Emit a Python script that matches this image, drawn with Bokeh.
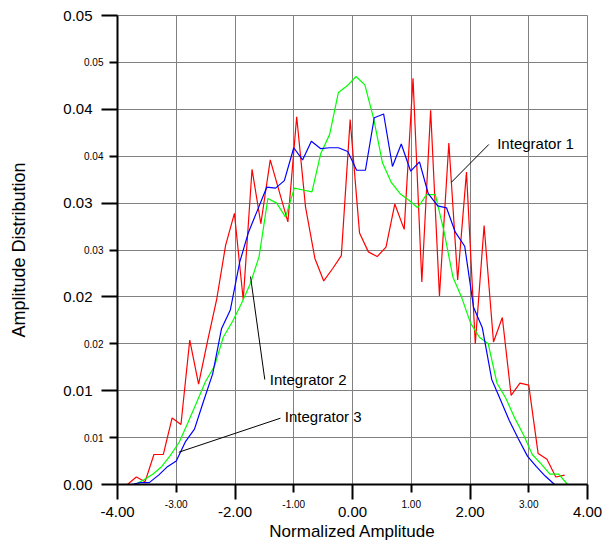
from bokeh.plotting import figure
from bokeh.models import FixedTicker, Label, Range1d, LinearAxis
from bokeh.embed import file_html
from bokeh.resources import INLINE

# ---- data ----
int1_x = [-3.83, -3.68, -3.53, -3.38, -3.22, -3.07, -2.92, -2.77, -2.62, -2.47,
          -2.31, -2.16, -2.01, -1.86, -1.71, -1.56, -1.40, -1.25, -1.10, -0.95,
          -0.80, -0.64, -0.49, -0.34, -0.19, -0.04, 0.12, 0.27, 0.42, 0.57,
          0.72, 0.88, 1.03, 1.18, 1.33, 1.48, 1.64, 1.79, 1.94, 2.09,
          2.24, 2.40, 2.55, 2.70, 2.85, 3.00, 3.16, 3.31, 3.46, 3.61]
int1_y = [0.0000, 0.0008, 0.0003, 0.0032, 0.0032, 0.0071, 0.0064, 0.0154, 0.0107, 0.0152,
          0.0198, 0.0255, 0.0289, 0.0197, 0.0336, 0.0278, 0.0346, 0.0313, 0.0280, 0.0392,
          0.0296, 0.0241, 0.0217, 0.0230, 0.0244, 0.0389, 0.0268, 0.0248, 0.0243, 0.0253,
          0.0299, 0.0272, 0.0433, 0.0216, 0.0399, 0.0201, 0.0364, 0.0218, 0.0333, 0.0150,
          0.0276, 0.0152, 0.0178, 0.0095, 0.0108, 0.0106, 0.0033, 0.0027, 0.0008, 0.0010]

int2_x = [-3.76, -3.61, -3.46, -3.30, -3.15, -3.00, -2.84, -2.69, -2.54, -2.38,
          -2.23, -2.08, -1.92, -1.77, -1.62, -1.46, -1.31, -1.16, -1.00, -0.85,
          -0.70, -0.54, -0.39, -0.24, -0.08, 0.07, 0.22, 0.37, 0.53, 0.68,
          0.83, 0.99, 1.14, 1.29, 1.45, 1.60, 1.75, 1.91, 2.06, 2.21,
          2.37, 2.52, 2.67, 2.82, 2.98, 3.13, 3.28, 3.44, 3.59, 3.74]
int2_y = [0.0000, 0.0002, 0.0002, 0.0010, 0.0019, 0.0025, 0.0046, 0.0059, 0.0088, 0.0118,
          0.0166, 0.0186, 0.0237, 0.0269, 0.0292, 0.0317, 0.0316, 0.0324, 0.0359, 0.0346,
          0.0366, 0.0358, 0.0359, 0.0359, 0.0355, 0.0335, 0.0335, 0.0391, 0.0395, 0.0339,
          0.0363, 0.0334, 0.0344, 0.0310, 0.0297, 0.0295, 0.0269, 0.0254, 0.0189, 0.0167,
          0.0112, 0.0090, 0.0068, 0.0049, 0.0030, 0.0019, 0.0009, 0.0000, 0.0000, 0.0000]

int3_x = [-3.70, -3.55, -3.40, -3.25, -3.10, -2.95, -2.80, -2.65, -2.50, -2.35,
          -2.20, -2.04, -1.89, -1.74, -1.59, -1.44, -1.29, -1.14, -0.99, -0.84,
          -0.69, -0.54, -0.39, -0.24, -0.09, 0.06, 0.21, 0.36, 0.51, 0.66,
          0.81, 0.96, 1.11, 1.26, 1.41, 1.56, 1.71, 1.86, 2.01, 2.16,
          2.31, 2.46, 2.61, 2.76, 2.91, 3.06, 3.21, 3.36, 3.51, 3.66]
int3_y = [0.0000, 0.0005, 0.0011, 0.0019, 0.0031, 0.0045, 0.0066, 0.0088, 0.0110, 0.0126,
          0.0157, 0.0174, 0.0193, 0.0214, 0.0243, 0.0305, 0.0300, 0.0285, 0.0316, 0.0314,
          0.0312, 0.0353, 0.0373, 0.0418, 0.0425, 0.0435, 0.0426, 0.0390, 0.0343, 0.0322,
          0.0310, 0.0303, 0.0295, 0.0309, 0.0309, 0.0269, 0.0221, 0.0199, 0.0172, 0.0157,
          0.0150, 0.0108, 0.0092, 0.0071, 0.0053, 0.0032, 0.0022, 0.0011, 0.0011, 0.0000]

x_major = [-4, -2, 0, 2, 4]
x_major_labels = ["-4.00", "-2.00", "0.00", "2.00", "4.00"]
x_minor = [-3, -1, 1, 3]
x_minor_labels = ["-3.00", "-1.00", "1.00", "3.00"]
y_major = [0.0, 0.01, 0.02, 0.03, 0.04, 0.05]
y_major_labels = ["0.00", "0.01", "0.02", "0.03", "0.04", "0.05"]
y_minor = [0.005, 0.015, 0.025, 0.035, 0.045]
y_minor_labels = ["0.01", "0.02", "0.03", "0.04", "0.05"]
x_grid = [-4, -3, -2, -1, 0, 1, 2, 3, 4]
y_grid = [0.0, 0.005, 0.01, 0.015, 0.02, 0.025, 0.03, 0.035, 0.04, 0.045, 0.05]

FONT = "Liberation Sans"

p = figure(width=603, height=544, x_range=Range1d(-4, 4), y_range=Range1d(0, 0.05),
           output_backend="svg", toolbar_location=None,
           min_border_left=117, min_border_right=16, min_border_top=15, min_border_bottom=60)
p.background_fill_color = "white"
p.border_fill_color = "white"
p.outline_line_color = "#808080"
p.outline_line_width = 1

p.xgrid.ticker = FixedTicker(ticks=x_grid)
p.ygrid.ticker = FixedTicker(ticks=y_grid)
p.grid.grid_line_color = "#808080"
p.grid.grid_line_width = 1


def style_inner(ax, minor_pos, minor_lab, major_pos, major_len, standoff):
    # inner axis: draws the axis line, the long ticks and the small labels
    ax.ticker = FixedTicker(ticks=minor_pos, minor_ticks=major_pos)
    ax.major_label_overrides = {v: t for v, t in zip(minor_pos, minor_lab)}
    ax.axis_line_color = "black"
    ax.axis_line_width = 2
    ax.major_tick_line_color = "black"
    ax.major_tick_line_width = 2
    ax.minor_tick_line_color = "black"
    ax.minor_tick_line_width = 2
    ax.major_tick_in = 0
    ax.minor_tick_in = 0
    ax.major_tick_out = 8
    ax.minor_tick_out = major_len
    ax.major_label_standoff = standoff
    ax.major_label_text_font = FONT
    ax.major_label_text_font_size = "10px"
    ax.major_label_text_color = "black"


def make_outer(major_pos, major_lab, title, standoff, title_standoff, title_size):
    ax = LinearAxis(ticker=FixedTicker(ticks=major_pos, minor_ticks=[]))
    ax.major_label_overrides = {v: t for v, t in zip(major_pos, major_lab)}
    ax.axis_line_color = None
    ax.major_tick_line_color = None
    ax.minor_tick_line_color = None
    ax.major_tick_in = 0
    ax.major_tick_out = 0
    ax.minor_tick_in = 0
    ax.minor_tick_out = 0
    ax.major_label_standoff = standoff
    ax.major_label_text_font = FONT
    ax.major_label_text_font_size = "15px"
    ax.major_label_text_color = "black"
    ax.axis_label = title
    ax.axis_label_standoff = title_standoff
    ax.axis_label_text_font = FONT
    ax.axis_label_text_font_size = title_size
    ax.axis_label_text_font_style = "normal"
    ax.axis_label_text_color = "black"
    return ax


style_inner(p.xaxis[0], x_minor, x_minor_labels, x_major, 15, 0)
style_inner(p.yaxis[0], y_minor, y_minor_labels, y_major, 16, -2)

p.add_layout(make_outer(x_major, x_major_labels, "Normalized Amplitude", -4, 2, "17px"), "below")
p.add_layout(make_outer(y_major, y_major_labels, "Amplitude Distribution", -11, 31, "18px"), "left")

# series
p.line(int1_x, int1_y, line_color="#ff0000", line_width=1.2)
p.line(int3_x, int3_y, line_color="#00ff00", line_width=1.2)
p.line(int2_x, int2_y, line_color="#0000ff", line_width=1.2)

# callouts
p.segment(x0=[2.32, -1.493, -1.226], y0=[0.03625, 0.01119, 0.00707],
          x1=[1.685, -1.736, -2.957], y1=[0.03223, 0.02217, 0.00344],
          line_color="black", line_width=1)
for (lx, ly, t) in ((2.463, 0.03632, "Integrator 1"),
                    (-1.408, 0.01119, "Integrator 2"),
                    (-1.152, 0.00725, "Integrator 3")):
    p.add_layout(Label(x=lx, y=ly, text=t, text_align="left", text_baseline="middle",
                       text_font=FONT, text_font_size="15px", text_color="black"))

open("out.html", "w").write(file_html(p, INLINE))
